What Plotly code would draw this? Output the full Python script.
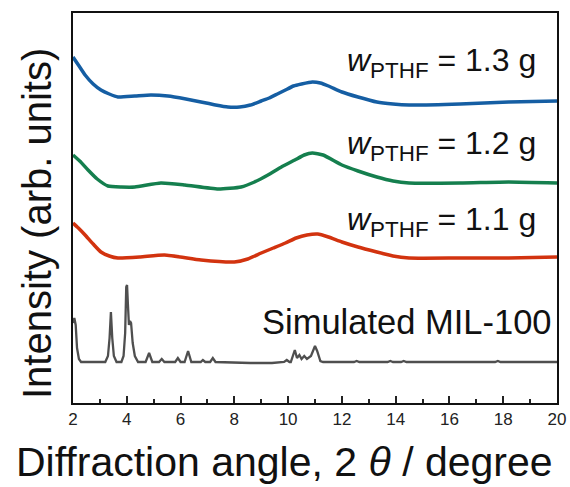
import plotly.graph_objects as go

# ---- data (y in arbitrary units, stacked offsets included) ----
blue_x = [2.0, 2.2, 2.45, 2.75, 3.04, 3.35, 3.67, 4.3, 4.9, 5.53, 6.2, 6.76, 7.3, 7.76, 8.2, 8.6, 9.0, 9.3, 9.6, 9.9, 10.2, 10.5, 10.9, 11.2, 11.5, 12.0, 12.6, 13.3, 13.9, 14.5, 16.4, 18.2, 20.0]
blue_y = [346, 338, 328, 319, 313, 309, 306, 307, 308, 307, 304, 301, 298, 296, 296, 298, 302, 305, 309, 313, 317, 319, 321, 320, 317, 311, 306, 301, 299, 298, 299, 301, 302]

green_x = [2.0, 2.25, 2.56, 2.9, 3.3, 3.8, 4.3, 5.27, 6.16, 7.4, 8.25, 8.75, 9.25, 9.75, 10.25, 10.6, 10.9, 11.3, 12.0, 12.6, 13.3, 13.9, 14.5, 16.4, 18.2, 20.0]
green_y = [248, 242, 233, 224, 217, 216, 216, 220, 218, 214, 216, 221, 228, 236, 243, 248, 250, 248, 238, 232, 226, 222, 220, 220, 221, 220]

red_x = [2.0, 2.2, 2.45, 2.75, 3.04, 3.35, 3.67, 4.5, 5.4, 6.76, 8.0, 8.5, 9.0, 9.45, 9.9, 10.3, 10.7, 11.1, 11.5, 12.0, 12.6, 13.3, 13.9, 14.5, 16.4, 18.2, 20.0]
red_y = [180, 175, 168, 159, 151, 147, 145, 146, 148, 143, 141, 144, 150, 155, 160, 165, 168, 169, 166, 161, 156, 151, 147, 145, 145, 145, 146]

sim_x = [2.0, 2.05, 2.1, 2.15, 2.22, 2.3,
         3.2, 3.3, 3.36, 3.41, 3.46, 3.52, 3.62,
         3.8, 3.88, 3.94, 3.98, 4.01, 4.04, 4.08, 4.12, 4.16, 4.22, 4.3, 4.42,
         4.7, 4.83, 4.95, 5.2, 5.3, 5.4, 5.8, 5.9, 6.0, 6.15, 6.28, 6.4,
         6.75, 6.83, 6.92, 7.1, 7.2, 7.3, 8.2, 8.6, 9.0, 9.4, 9.85, 9.95, 10.05,
         10.1, 10.25, 10.33, 10.42, 10.5, 10.6, 10.7, 10.85, 11.0, 11.08, 11.2, 11.3,
         12.45, 12.55, 12.65, 13.7, 13.8, 13.9, 14.2, 14.3, 14.4, 17.7, 17.8, 17.9, 20.0]
sim_y = [80, 85, 78, 55, 44, 41,
         41, 47, 65, 91, 65, 47, 41,
         41, 47, 70, 116, 118, 100, 78, 82, 80, 60, 47, 41,
         41, 50, 41, 41, 44, 41, 41, 45, 41, 41, 52, 41,
         41, 43, 41, 41, 45, 41, 40, 40, 40, 40, 41, 43, 41,
         41, 53, 45, 48, 44, 47, 44, 47, 57, 52, 42, 41,
         41, 42, 41, 41, 42, 41, 41, 42, 41, 41, 42, 41, 41]

labels = ["<i>w</i><sub>PTHF</sub> = 1.3 g", "<i>w</i><sub>PTHF</sub> = 1.2 g",
          "<i>w</i><sub>PTHF</sub> = 1.1 g", "Simulated MIL-100"]
label_x = [19.3, 19.3, 19.3, 19.9]
label_y = [341, 258, 182, 81]
label_size = [32, 32, 32, 34.5]

x_title = "Diffraction angle, 2 <i>θ</i> / degree"
y_title = "Intensity (arb. units)"

FONT = "Liberation Sans, Arial, sans-serif"

fig = go.Figure()
fig.add_trace(go.Scatter(x=sim_x, y=sim_y, mode="lines", line=dict(color="#4f4f4f", width=2.3)))
fig.add_trace(go.Scatter(x=red_x, y=red_y, mode="lines", line=dict(color="#d2330f", width=3.5, shape="spline", smoothing=0.5)))
fig.add_trace(go.Scatter(x=green_x, y=green_y, mode="lines", line=dict(color="#157f4e", width=3.5, shape="spline", smoothing=0.5)))
fig.add_trace(go.Scatter(x=blue_x, y=blue_y, mode="lines", line=dict(color="#155ea3", width=3.5, shape="spline", smoothing=0.5)))

for t, x, y, s in zip(labels, label_x, label_y, label_size):
    fig.add_annotation(x=x, y=y, text=t, showarrow=False,
                       xanchor="right", yanchor="middle",
                       font=dict(family=FONT, size=s, color="#111111"))

# axis titles
fig.add_annotation(x=0.438, y=-0.151, xref="paper", yref="paper", text=x_title, showarrow=False,
                   xanchor="center", yanchor="middle", font=dict(family=FONT, size=41, color="#111111"))
fig.add_annotation(x=-0.0744, y=0.4615, xref="paper", yref="paper", text=y_title, showarrow=False,
                   textangle=-90, xanchor="center", yanchor="middle", font=dict(family=FONT, size=40, color="#111111"))

fig.update_layout(
    width=570, height=487,
    margin=dict(l=73, r=13, t=13, b=84, autoexpand=False),
    paper_bgcolor="white", plot_bgcolor="white",
    showlegend=False,
    font=dict(family=FONT, color="#111111"),
)
fig.update_xaxes(
    range=[2, 20], tickvals=[2, 4, 6, 8, 10, 12, 14, 16, 18, 20],
    ticks="inside", ticklen=7, tickwidth=1.5, tickcolor="#222222",
    minor=dict(tickvals=[3, 5, 7, 9, 11, 13, 15, 17, 19], ticks="inside", ticklen=4, tickwidth=1.5, tickcolor="#222222"),
    showline=True, linecolor="#111111", linewidth=2, mirror=True,
    showgrid=False, zeroline=False, automargin=False,
    tickfont=dict(family=FONT, size=17, color="#222222"),
)
fig.update_yaxes(
    range=[0, 390], showticklabels=False, ticks="",
    showline=True, linecolor="#111111", linewidth=2, mirror=True,
    showgrid=False, zeroline=False, automargin=False,
)

fig.write_html("out.html")
